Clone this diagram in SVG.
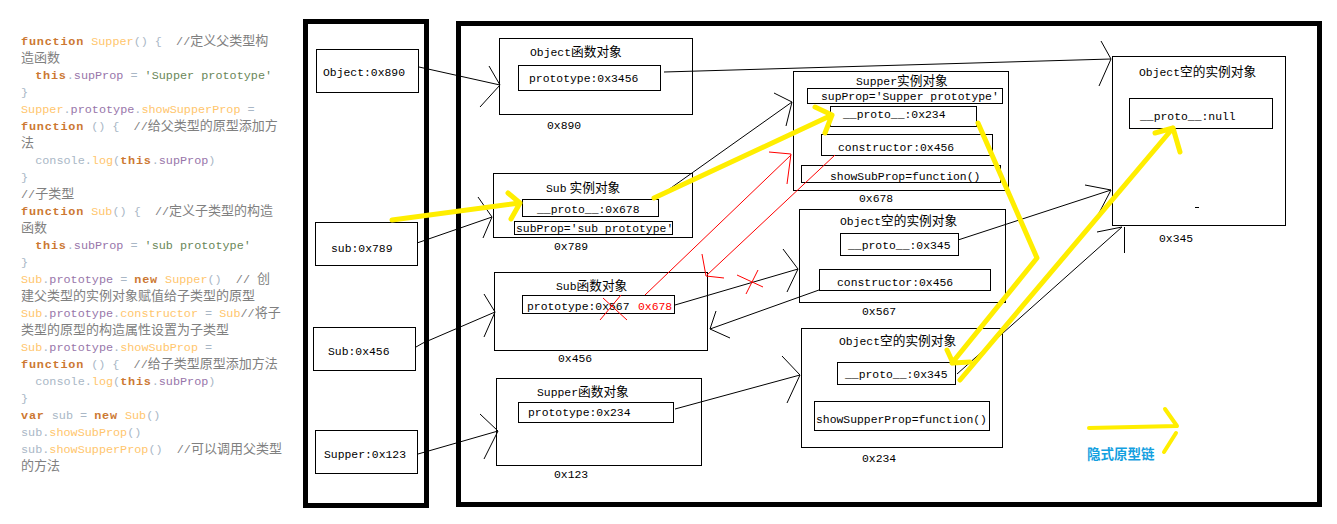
<svg xmlns="http://www.w3.org/2000/svg" width="1337" height="524" viewBox="0 0 1337 524">
<style>
text{white-space:pre}
.code{font-family:"Liberation Mono","Noto Sans CJK SC",monospace;font-size:11.8px;fill:#a9b7c6}
.code .c{font-size:13px}
.k{fill:#cc7832;font-weight:bold;letter-spacing:0.8px}
.f{fill:#ffc66d}
.p{fill:#a9b7c6}
.r{fill:#9876aa}
.s{fill:#6a8759}
.m{fill:#808080}
.t{font-family:"Liberation Mono","Noto Sans CJK SC",monospace;font-size:11.4px;fill:#000}
.t .c{font-size:12.7px}
.t .sp{font-size:5px}
.red{fill:#ff0000}
.box{fill:#fff;stroke:#000;stroke-width:1}
.in{fill:none;stroke:#000;stroke-width:1}
.frame{fill:none;stroke:#000;stroke-width:5}
.bl{fill:none;stroke:#000;stroke-width:1}
.rl{fill:none;stroke:#ff0000;stroke-width:1}
.yl{fill:none;stroke:#ffee00;stroke-width:5;stroke-linecap:round;stroke-linejoin:round}
.leg{font-family:"Noto Sans CJK SC",sans-serif;font-size:13.5px;font-weight:bold;fill:#13a0e0}
</style>
<rect width="1337" height="524" fill="#fff"/>
<g id="code">
<text class="code" x="21" y="45"><tspan class="k">function</tspan> <tspan class="f">Supper</tspan><tspan class="p">() {</tspan><tspan class="m">  //<tspan class="c">定义父类型构</tspan></tspan></text>
<text class="code" x="21" y="62"><tspan class="m c">造函数</tspan></text>
<text class="code" x="21" y="79">  <tspan class="k">this</tspan><tspan class="p">.</tspan><tspan class="r">supProp</tspan><tspan class="p"> = </tspan><tspan class="s">'Supper prototype'</tspan></text>
<text class="code" x="21" y="96"><tspan class="p">}</tspan></text>
<text class="code" x="21" y="113"><tspan class="f">Supper</tspan><tspan class="p">.</tspan><tspan class="r">prototype</tspan><tspan class="p">.</tspan><tspan class="f">showSupperProp</tspan><tspan class="p"> =</tspan></text>
<text class="code" x="21" y="130"><tspan class="k">function</tspan><tspan class="p"> () {  </tspan><tspan class="m">//<tspan class="c">给父类型的原型添加方</tspan></tspan></text>
<text class="code" x="21" y="147"><tspan class="m c">法</tspan></text>
<text class="code" x="21" y="164"><tspan class="p">  console.</tspan><tspan class="f">log</tspan><tspan class="p">(</tspan><tspan class="k">this</tspan><tspan class="p">.</tspan><tspan class="r">supProp</tspan><tspan class="p">)</tspan></text>
<text class="code" x="21" y="181"><tspan class="p">}</tspan></text>
<text class="code" x="21" y="198"><tspan class="m">//<tspan class="c">子类型</tspan></tspan></text>
<text class="code" x="21" y="215"><tspan class="k">function</tspan> <tspan class="f">Sub</tspan><tspan class="p">() {  </tspan><tspan class="m">//<tspan class="c">定义子类型的构造</tspan></tspan></text>
<text class="code" x="21" y="232"><tspan class="m c">函数</tspan></text>
<text class="code" x="21" y="249">  <tspan class="k">this</tspan><tspan class="p">.</tspan><tspan class="r">subProp</tspan><tspan class="p"> = </tspan><tspan class="s">'sub prototype'</tspan></text>
<text class="code" x="21" y="266"><tspan class="p">}</tspan></text>
<text class="code" x="21" y="283"><tspan class="f">Sub</tspan><tspan class="p">.</tspan><tspan class="r">prototype</tspan><tspan class="p"> = </tspan><tspan class="k">new</tspan> <tspan class="f">Supper</tspan><tspan class="p">()  </tspan><tspan class="m">// <tspan class="c">创</tspan></tspan></text>
<text class="code" x="21" y="300"><tspan class="m c">建父类型的实例对象赋值给子类型的原型</tspan></text>
<text class="code" x="21" y="317"><tspan class="f">Sub</tspan><tspan class="p">.</tspan><tspan class="r">prototype</tspan><tspan class="p">.</tspan><tspan class="f">constructor</tspan><tspan class="p"> = </tspan><tspan class="f">Sub</tspan><tspan class="m">//<tspan class="c">将子</tspan></tspan></text>
<text class="code" x="21" y="334"><tspan class="m c">类型的原型的构造属性设置为子类型</tspan></text>
<text class="code" x="21" y="351"><tspan class="f">Sub</tspan><tspan class="p">.</tspan><tspan class="r">prototype</tspan><tspan class="p">.</tspan><tspan class="f">showSubProp</tspan><tspan class="p"> =</tspan></text>
<text class="code" x="21" y="368"><tspan class="k">function</tspan><tspan class="p"> () {  </tspan><tspan class="m">//<tspan class="c">给子类型原型添加方法</tspan></tspan></text>
<text class="code" x="21" y="385"><tspan class="p">  console.</tspan><tspan class="f">log</tspan><tspan class="p">(</tspan><tspan class="k">this</tspan><tspan class="p">.</tspan><tspan class="r">subProp</tspan><tspan class="p">)</tspan></text>
<text class="code" x="21" y="402"><tspan class="p">}</tspan></text>
<text class="code" x="21" y="419"><tspan class="k">var</tspan><tspan class="p"> sub = </tspan><tspan class="k">new</tspan> <tspan class="f">Sub</tspan><tspan class="p">()</tspan></text>
<text class="code" x="21" y="436"><tspan class="p">sub.</tspan><tspan class="f">showSubProp</tspan><tspan class="p">()</tspan></text>
<text class="code" x="21" y="453"><tspan class="p">sub.</tspan><tspan class="f">showSupperProp</tspan><tspan class="p">()  </tspan><tspan class="m">//<tspan class="c">可以调用父类型</tspan></tspan></text>
<text class="code" x="21" y="470"><tspan class="m c">的方法</tspan></text>
</g>
<g id="frames">
<rect class="frame" x="305.5" y="21.5" width="121" height="484"/>
<rect class="frame" x="458.5" y="23.5" width="861" height="481"/>
</g>
<g id="stack-Object">
<rect class="box" x="316.5" y="49.5" width="102" height="43"/>
<text class="t" x="323" y="76">Object:0x890</text>
</g>
<g id="stack-sub">
<rect class="box" x="315.5" y="222.5" width="102" height="43"/>
<text class="t" x="331" y="252">sub:0x789</text>
</g>
<g id="stack-Sub">
<rect class="box" x="313.5" y="327.5" width="102" height="43"/>
<text class="t" x="328" y="355">Sub:0x456</text>
</g>
<g id="stack-Supper">
<rect class="box" x="315.5" y="430.5" width="102" height="43"/>
<text class="t" x="324" y="457.5">Supper:0x123</text>
</g>
<g id="object-function">
<rect class="box" x="499.5" y="38.5" width="193" height="76"/>
<text class="t" x="530" y="56">Object<tspan class="c">函数对象</tspan></text>
<rect class="in" x="518.5" y="65.5" width="142" height="25"/>
<text class="t" x="529" y="82">prototype:0x3456</text>
<text class="t" x="547" y="128.5">0x890</text>
</g>
<g id="sub-instance">
<rect class="box" x="493.5" y="173.5" width="199" height="64"/>
<text class="t" x="546" y="191.5">Sub<tspan class="sp"> </tspan><tspan class="c">实例对象</tspan></text>
<rect class="in" x="522.5" y="199.5" width="136" height="17"/>
<text class="t" x="537" y="212.5">__proto__:0x678</text>
<rect class="in" x="514.5" y="221.5" width="158" height="13"/>
<text class="t" x="516" y="232">subProp='sub prototype'</text>
<text class="t" x="554" y="250">0x789</text>
</g>
<g id="sub-function">
<rect class="box" x="494.5" y="272.5" width="213" height="78"/>
<text class="t" x="556" y="289.5">Sub<tspan class="c">函数对象</tspan></text>
<rect class="in" x="522.5" y="295.5" width="152" height="18"/>
<text class="t" x="527" y="310">prototype:0x567</text>
<text class="t red" x="638" y="310">0x678</text>
<text class="t" x="558" y="361.5">0x456</text>
</g>
<g id="supper-function">
<rect class="box" x="496.5" y="378.5" width="205" height="87"/>
<text class="t" x="537" y="396">Supper<tspan class="c">函数对象</tspan></text>
<rect class="in" x="518.5" y="402.5" width="155" height="20"/>
<text class="t" x="528" y="416">prototype:0x234</text>
<text class="t" x="554" y="478">0x123</text>
</g>
<g id="supper-instance">
<rect class="box" x="793.5" y="71.5" width="215" height="119"/>
<text class="t" x="856" y="85">Supper<tspan class="c">实例对象</tspan></text>
<rect class="in" x="807.5" y="88.5" width="195" height="15"/>
<text class="t" x="821" y="99.5">supProp='Supper prototype'</text>
<rect class="in" x="830.5" y="106.5" width="146" height="20"/>
<text class="t" x="843" y="118">__proto__:0x234</text>
<rect class="in" x="821.5" y="134.5" width="171" height="21"/>
<text class="t" x="838" y="151">constructor:0x456</text>
<rect class="in" x="801.5" y="165.5" width="199" height="17"/>
<text class="t" x="830" y="180">showSubProp=function()</text>
<text class="t" x="859" y="202">0x678</text>
</g>
<g id="object-instance-567">
<rect class="box" x="799.5" y="209.5" width="206" height="93"/>
<text class="t" x="840" y="225">Object<tspan class="c">空的实例对象</tspan></text>
<rect class="in" x="840.5" y="233.5" width="118" height="22"/>
<text class="t" x="848" y="249">__proto__:0x345</text>
<rect class="in" x="819.5" y="269.5" width="171" height="21"/>
<text class="t" x="837" y="286">constructor:0x456</text>
<text class="t" x="862" y="315">0x567</text>
</g>
<g id="object-instance-234">
<rect class="box" x="801.5" y="328.5" width="201" height="119"/>
<text class="t" x="839" y="345">Object<tspan class="c">空的实例对象</tspan></text>
<rect class="in" x="837.5" y="362.5" width="118" height="22"/>
<text class="t" x="845" y="378">__proto__:0x345</text>
<rect class="in" x="814.5" y="401.5" width="175" height="29"/>
<text class="t" x="816" y="423">showSupperProp=function()</text>
<text class="t" x="862" y="462">0x234</text>
</g>
<g id="object-instance-345">
<rect class="box" x="1112.5" y="56.5" width="173" height="169"/>
<text class="t" x="1139" y="76">Object<tspan class="c">空的实例对象</tspan></text>
<rect class="in" x="1129.5" y="98.5" width="143" height="30"/>
<text class="t" x="1140" y="120">__proto__:null</text>
<line class="bl" x1="1195" y1="207.5" x2="1199" y2="207.5"/>
<text class="t" x="1159" y="242">0x345</text>
</g>
<g id="connectors">
<path class="bl" d="M419,67 L500,85 M489,66 L500,85 L480,107"/>
<path class="bl" d="M417,243 L492,217 M478,197 L492,217 L483,238"/>
<path class="bl" d="M416,347 L423,343 L495,312 M484,294 L495,312 L484,337"/>
<path class="bl" d="M418,454 L498,431 M480,414 L498,431 L484,459"/>
<path class="bl" d="M664,72 L1111,59 M1101,41 L1111,59 L1099,86"/>
<path class="bl" d="M668,190 L792,102 M774,93 L792,102 L786,126"/>
<path class="bl" d="M675,409 L800,375 M782,356 L800,375 L787,403"/>
<path class="bl" d="M675,305 L798,269 M783,249 L798,269 L787,292"/>
<path class="bl" d="M819,290 L710,329 M716,311 L710,329 L730,338"/>
<path class="bl" d="M958,240 L1111,190 M1085,185 L1111,190 L1098,215"/>
<path class="bl" d="M957,374 L1122,227 M1097,232 L1122,227 M1124.5,227 L1124.5,253"/>
<path class="rl" d="M645,295 L791,155 M769,152 L791,154 L787,184"/>
<path class="rl" d="M835,155 L707,275 M702,254 L706,276 L724,278"/>
<path class="rl" d="M600,320 L621,295 M603,298 L627,320"/>
<path class="rl" d="M737,275 L763,287 M758,270 L746,294"/>
<path class="yl" d="M392,220 L520,203 M508,193 L520,203 L511,219"/>
<path class="yl" d="M654,198 L832,115 M815,107 L832,115 L825,133"/>
<path class="yl" d="M978,123 L1037,258 L952,363 M947,350 L953,363 L970,362"/>
<path class="yl" d="M960,380 L1173,128 M1155,133 L1173,128 L1180,152"/>
</g>
<g id="legend">
<path class="yl" style="stroke-width:4" d="M1089,428 L1177,426 M1165,409 L1177,426 M1176,433 L1164,452"/>
<text class="leg" x="1087" y="459">隐式原型链</text>
</g>
</svg>
